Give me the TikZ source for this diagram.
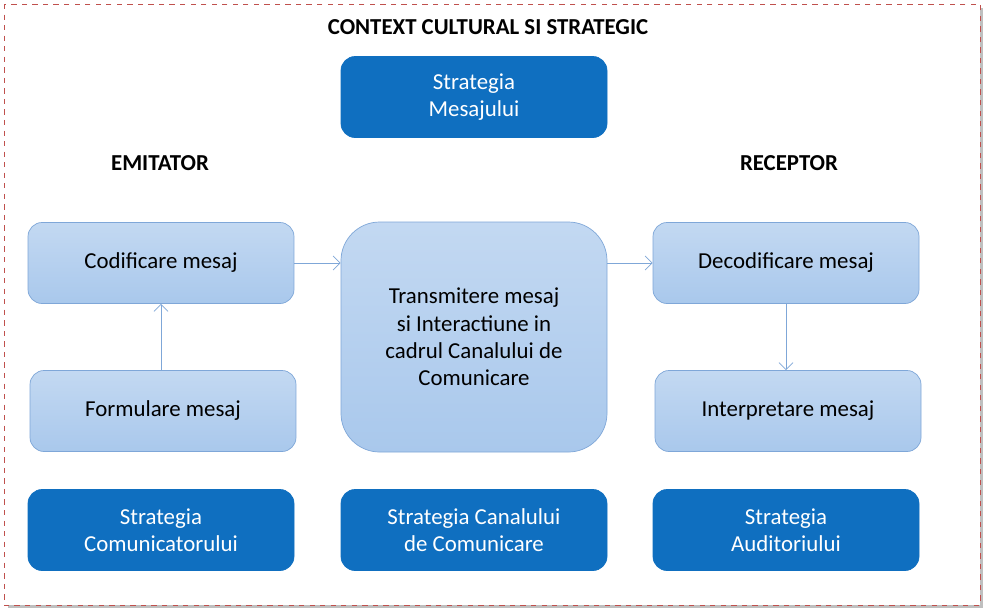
\documentclass[tikz,border=0pt]{standalone}
\usepackage{fontspec}
\setmainfont{Carlito}
\usetikzlibrary{positioning, arrows.meta}
\definecolor{darkbox}{HTML}{0F6FC0}
\definecolor{lightbox}{HTML}{A9C8EC}
\definecolor{lightedge}{HTML}{7FA7D8}
\definecolor{frame}{HTML}{C0504D}
\tikzset{
  strat/.style={draw=darkbox, fill=darkbox, rounded corners=8pt, text=white, align=center,
    minimum width=266*0.02cm, minimum height=81*0.02cm, font=\fontsize{13}{15.5}\selectfont},
  step box/.style={draw=lightedge, top color=lightbox!70, bottom color=lightbox, rounded corners=8pt,
    align=center, minimum width=266*0.02cm, minimum height=81*0.02cm, font=\fontsize{13}{15.5}\selectfont},
  flow/.style={-{Straight Barb[length=4pt]}, draw=lightedge, thin},
  head/.style={font=\bfseries\fontsize{13}{15}\selectfont}
}
\begin{document}
\begin{tikzpicture}[x=0.02cm, y=-0.02cm]
\useasboundingbox (0,0) rectangle (985,610);
\fill[gray!50] (8,8) rectangle (983,608);
\draw[frame, dashed, fill=white] (4,4) rectangle (980,605);
\node[head] (title) at (488,27) {CONTEXT CULTURAL SI STRATEGIC};
\node[strat] (mesaj) at (474,97) {Strategia\\Mesajului};
\node[head] (emit) at (160,163) {EMITATOR};
\node[head] (recep) at (789,163) {RECEPTOR};
\node[step box] (cod) at (161,263) {Codificare mesaj};
\node[step box] (form) at (163,411) {Formulare mesaj};
\node[step box, rounded corners=22pt, minimum height=230*0.02cm] (trans) at (474,337)
  {Transmitere mesaj\\si Interactiune in\\cadrul Canalului de\\Comunicare};
\node[step box] (decod) at (786,263) {Decodificare mesaj};
\node[step box] (interp) at (788,411) {Interpretare mesaj};
\node[strat] (com) at (161,530) {Strategia\\Comunicatorului};
\node[strat] (canal) at (474,530) {Strategia Canalului\\de Comunicare};
\node[strat] (aud) at (786,530) {Strategia\\Auditoriului};
\draw[flow] (cod.east) -- (cod.east -| trans.west);
\draw[flow] (cod.east -| trans.east) -- (decod.west);
\draw[flow] (form.north -| cod.south) -- (cod.south);
\draw[flow] (decod.south) -- (decod.south |- interp.north);
\end{tikzpicture}
\end{document}
